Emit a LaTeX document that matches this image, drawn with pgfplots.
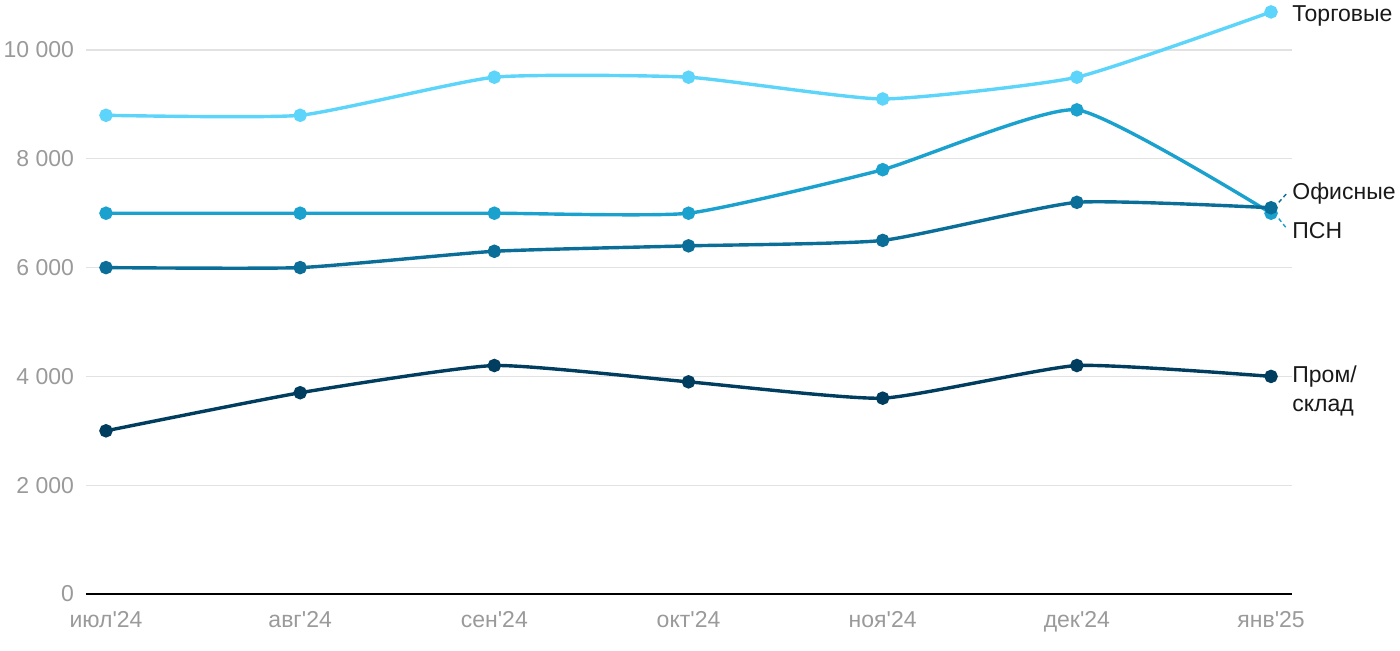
\documentclass[border=0pt]{standalone}
\usepackage{pgfplots}
\pgfplotsset{compat=1.18}
\usepackage{fontspec}
\setmainfont{Liberation Sans}
\definecolor{ctorg}{HTML}{5DD5FA}
\definecolor{cpsn}{HTML}{1BA1CE}
\definecolor{coff}{HTML}{0A6E98}
\definecolor{cprom}{HTML}{003D5E}
\definecolor{cgrid}{HTML}{E2E2E2}
\definecolor{ctick}{HTML}{9A9A9A}
\newcommand{\q}{\textquotesingle}
\begin{document}
\begin{tikzpicture}
\path[use as bounding box] (0,0) rectangle (700pt,325pt);
\begin{axis}[
  at={(43pt,28pt)}, anchor=south west,
  scale only axis, width=603pt, height=272pt,
  xmin=-0.103, xmax=6.108, ymin=0, ymax=10000,
  clip=false,
  scaled y ticks=false,
  axis line style={draw=none},
  ytick={0,2000,4000,6000,8000,10000},
  yticklabels={0,2 000,4 000,6 000,8 000,10 000},
  xtick={0,...,6},
  xticklabels={июл\q24,авг\q24,сен\q24,окт\q24,ноя\q24,дек\q24,янв\q25},
  tick style={draw=none},
  ymajorgrids, grid style={cgrid, line width=0.6pt},
  ticklabel style={font=\fontsize{11.5}{12}\selectfont, text=ctick},
  yticklabel style={xshift=-2.5pt},
  xticklabel style={yshift=-5pt},
  /pgf/number format/assume math mode=true,
  every axis plot/.append style={line width=1.7pt, smooth, tension=0.3, mark=*, mark size=2.5pt},
]
\addplot[ctorg, mark options={fill=ctorg, draw=ctorg}] coordinates {(0,8800)(1,8800)(2,9500)(3,9500)(4,9100)(5,9500)(6,10700)};
\addplot[cpsn, mark options={fill=cpsn, draw=cpsn}] coordinates {(0,7000)(1,7000)(2,7000)(3,7000)(4,7800)(5,8900)(6,7000)};
\addplot[coff, mark options={fill=coff, draw=coff}] coordinates {(0,6000)(1,6000)(2,6300)(3,6400)(4,6500)(5,7200)(6,7100)};
\addplot[cprom, mark options={fill=cprom, draw=cprom}] coordinates {(0,3000)(1,3700)(2,4200)(3,3900)(4,3600)(5,4200)(6,4000)};
\draw[black, line width=0.9pt] (axis cs:-0.103,0) -- (axis cs:6.108,0);
\draw[coff, line width=0.7pt, dash pattern=on 2pt off 1.5pt] (axis cs:6.04,7200) -- (axis cs:6.085,7380);
\draw[cpsn, line width=0.7pt, dash pattern=on 2pt off 1.5pt] (axis cs:6.04,6900) -- (axis cs:6.085,6700);
\begin{scope}[every node/.style={font=\fontsize{11.5}{14.5}\selectfont, text=black!90, anchor=west, inner sep=0pt}]
\node at (axis cs:6.108,10620) {Торговые};
\node at (axis cs:6.108,7370) {Офисные};
\node at (axis cs:6.108,6680) {ПСН};
\node[anchor=north west, align=left] at (axis cs:6.108,4200) {Пром/\\склад};
\end{scope}
\end{axis}
\end{tikzpicture}
\end{document}
